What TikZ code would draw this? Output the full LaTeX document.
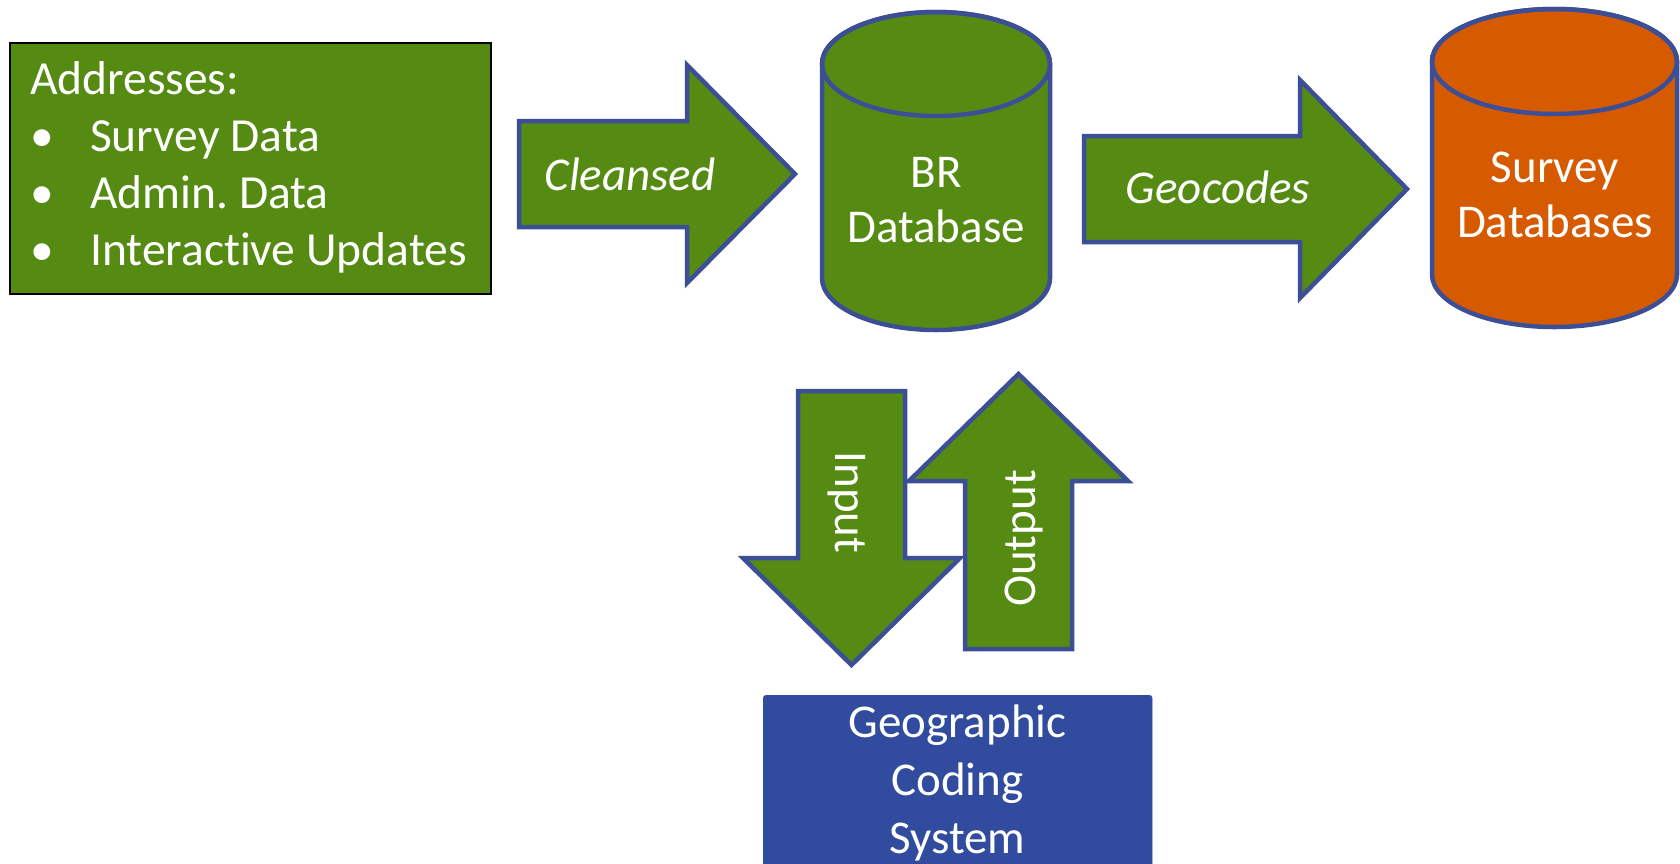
\documentclass[tikz,border=0pt]{standalone}
\usepackage{fontspec}
\setmainfont{Carlito}[Ligatures=NoCommon]
\definecolor{grn}{HTML}{568B13}
\definecolor{org}{HTML}{D65B00}
\definecolor{edgeblue}{HTML}{3B4E96}
\definecolor{gcsblue}{HTML}{314B9F}
\frenchspacing
\begin{document}
\begin{tikzpicture}[x=1pt,y=-1pt, line join=miter,
  bigarrow/.style={fill=grn, draw=edgeblue, line width=4.5pt},
  cylgreen/.style={fill=grn, draw=edgeblue, line width=4.5pt},
  cylorange/.style={fill=org, draw=edgeblue, line width=4.5pt},
  lbl/.style={text=white, font=\fontsize{47}{55}\selectfont, inner sep=0pt, align=center},
]
\useasboundingbox (0,0) rectangle (1680,863);

% Addresses box
\node[draw=black, line width=1.5pt, fill=grn, minimum width=481pt, minimum height=251pt,
      anchor=north west, inner sep=0pt] (addr) at (9,42) {};
\node[lbl, align=left, anchor=base west, font=\fontsize{47.5}{56.7}\selectfont] (addrtxt) at (30,265)
  {Addresses:\\\makebox[60pt][l]{\textbullet}Survey Data\\\makebox[60pt][l]{\textbullet}Admin.\ Data\\\makebox[60pt][l]{\textbullet}Interactive Updates};

% Cleansed arrow
\draw[bigarrow] (519,121) -- (687,121) -- (687,65) -- (795,174) -- (687,283) -- (687,227) -- (519,227) -- cycle;
\node[lbl, anchor=base, font=\fontsize{47}{55}\selectfont\itshape] (cleansed) at (630,190) {Cleansed};

% BR database cylinder
\path[cylgreen] (822,64) -- (822,278) arc[start angle=180, end angle=0, x radius=114, y radius=52]
   -- (1050,64) arc[start angle=0, end angle=-180, x radius=114, y radius=52] -- cycle;
\draw[edgeblue, line width=4.5pt] (936,64) ellipse[x radius=114, y radius=52];
\node[lbl, anchor=base] (br) at (936,242) {BR\\Database};

% Geocodes arrow
\draw[bigarrow] (1084,136) -- (1300,136) -- (1300,80) -- (1407,189) -- (1300,298) -- (1300,242) -- (1084,242) -- cycle;
\node[lbl, anchor=base, font=\fontsize{47}{55}\selectfont\itshape] (geocodes) at (1218,203) {Geocodes};

% Survey databases cylinder
\path[cylorange] (1432,61.5) -- (1432,274.5) arc[start angle=180, end angle=0, x radius=122.5, y radius=52.5]
   -- (1677,61.5) arc[start angle=0, end angle=-180, x radius=122.5, y radius=52.5] -- cycle;
\draw[edgeblue, line width=4.5pt] (1554.5,61.5) ellipse[x radius=122.5, y radius=52.5];
\node[lbl, anchor=base] (survey) at (1555,237) {Survey\\Databases};

% Input arrow (down)
\draw[bigarrow] (798,391) -- (905,391) -- (905,558) -- (960,558) -- (851.5,665) -- (743,558) -- (798,558) -- cycle;
\node[lbl, anchor=base, rotate=-90] (input) at (835,502.5) {Input};

% Output arrow (up)
\draw[bigarrow] (965,649) -- (1072,649) -- (1072,481) -- (1128,481) -- (1018.5,374) -- (909,481) -- (965,481) -- cycle;
\node[lbl, anchor=base, rotate=90] (output) at (1035,538.5) {Output};

% Geographic Coding System box
\node[fill=gcsblue, draw=gcsblue, rounded corners=3pt, minimum width=389pt, minimum height=200pt,
      anchor=north west, inner sep=0pt] (gcs) at (763,695) {};
\node[lbl, anchor=base, font=\fontsize{47}{58}\selectfont] (gcstxt) at (957.5,853) {Geographic\\Coding\\System};
\end{tikzpicture}
\end{document}
